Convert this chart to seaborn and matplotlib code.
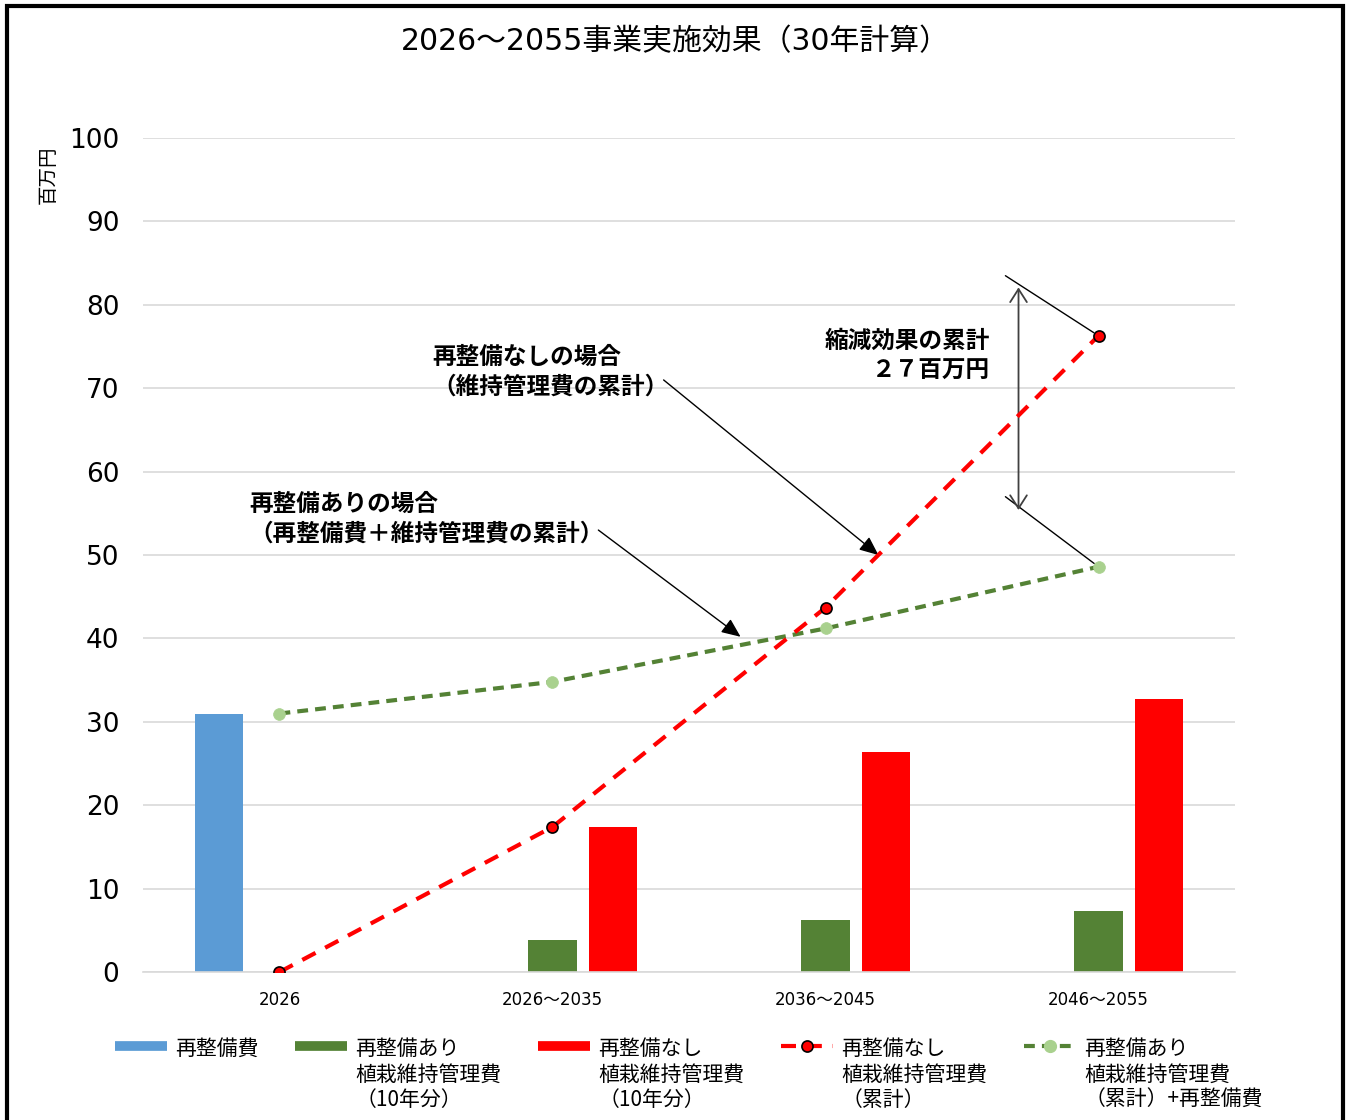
import numpy as np
import pandas as pd
import matplotlib
matplotlib.use('Agg')
import matplotlib.pyplot as plt
from matplotlib.lines import Line2D
import seaborn as sns

# data (百万円)
periods = ['2026', '2026〜2035', '2036〜2045', '2046〜2055']
renewal_cost = [31.0, np.nan, np.nan, np.nan]
with_renewal_10yr = [np.nan, 3.8, 6.3, 7.3]
without_renewal_10yr = [np.nan, 17.4, 26.4, 32.7]
without_renewal_cum = [0.0, 17.4, 43.7, 76.3]
with_renewal_cum = [31.0, 34.8, 41.2, 48.6]

bar_series = ['再整備費',
              '再整備あり\n植栽維持管理費\n（10年分）',
              '再整備なし\n植栽維持管理費\n（10年分）']
line_series = ['再整備なし\n植栽維持管理費\n（累計）',
               '再整備あり\n植栽維持管理費\n（累計）+再整備費']
yticks = list(range(0, 101, 10))

BLUE = '#5B9BD5'
GREEN = '#548235'
RED = '#FF0000'
LIGHT_GREEN = '#A9D18E'
NUM_FONT = ['DejaVu Sans', 'Noto Sans CJK JP']

sns.set_theme(style='white')
plt.rcParams['font.family'] = ['Noto Sans CJK JP', 'DejaVu Sans']
plt.rcParams['text.color'] = 'black'
plt.rcParams['xtick.color'] = 'black'
plt.rcParams['ytick.color'] = 'black'

df = pd.DataFrame({
    'period': periods * 3,
    'series': np.repeat(bar_series, len(periods)),
    'value': renewal_cost + with_renewal_10yr + without_renewal_10yr,
})

fig = plt.figure(figsize=(13.49, 11.2), dpi=100)
ax = fig.add_axes([0.1060, 0.1321, 0.8095, 0.7446])

sns.barplot(data=df, x='period', y='value', hue='series', order=periods,
            hue_order=bar_series, palette=[BLUE, GREEN, RED], saturation=1,
            width=0.66, gap=0.2, errorbar=None, legend=False, linewidth=0,
            ax=ax, zorder=2)

# cumulative lines
sns.pointplot(x=periods, y=with_renewal_cum, color=GREEN, markers='o',
              linestyles='--', errorbar=None, linewidth=3, markersize=8.5,
              markerfacecolor=LIGHT_GREEN, markeredgecolor=LIGHT_GREEN,
              markeredgewidth=0.5, ax=ax, zorder=3)
ln_green = ax.lines[-1]
ln_green.set_dashes((2.6, 1.7))
ln_green.set_markerfacecolor(LIGHT_GREEN)
ln_green.set_markeredgecolor(LIGHT_GREEN)

sns.pointplot(x=periods, y=without_renewal_cum, color=RED, markers='o',
              linestyles='--', errorbar=None, linewidth=3, markersize=8,
              markerfacecolor=RED, markeredgecolor='black',
              markeredgewidth=1.2, ax=ax, zorder=4)
ln_red = ax.lines[-1]
ln_red.set_dashes((3.6, 2.6))
ln_red.set_markerfacecolor(RED)
ln_red.set_markeredgecolor('black')

ax.set_xlim(-0.5, len(periods) - 0.5)
ax.set_ylim(0, 100)
ax.set_yticks(yticks)
ax.set_xlabel('')
ax.set_ylabel('')
ax.yaxis.grid(True, color='#D9D9D9', lw=1.2)
ax.set_axisbelow(True)
for s in ['top', 'right', 'left']:
    ax.spines[s].set_visible(False)
ax.spines['bottom'].set_color('#D9D9D9')
ax.spines['bottom'].set_linewidth(1.2)
ax.tick_params(axis='y', labelsize=19, length=0, pad=17, labelcolor='black')
ax.tick_params(axis='x', labelsize=12, length=0, pad=14, labelcolor='black')
for lbl in ax.get_yticklabels() + ax.get_xticklabels():
    lbl.set_family(NUM_FONT)

ax.text(-0.087, 0.956, '百万円', transform=ax.transAxes, rotation=90,
        fontsize=14, ha='center', va='center')

fig.text(0.5003, 0.9625, '2026〜2055事業実施効果（30年計算）', fontsize=21.5,
         ha='center', va='center', family=NUM_FONT)

# annotations
arrow_kw = dict(arrowstyle='-|>,head_length=0.58,head_width=0.25',
                color='black', lw=1, mutation_scale=20, shrinkA=0, shrinkB=0)
ax.annotate('', xy=(2.194, 50.0), xytext=(1.407, 71.0), arrowprops=arrow_kw)
ax.annotate('', xy=(1.689, 40.2), xytext=(1.168, 53.0), arrowprops=arrow_kw)
ax.text(0.560, 72.0, '再整備なしの場合\n（維持管理費の累計）', fontsize=17,
        fontweight='bold', ha='left', va='center', linespacing=1.3)
ax.text(-0.110, 54.4, '再整備ありの場合\n（再整備費＋維持管理費の累計）',
        fontsize=17, fontweight='bold', ha='left', va='center',
        linespacing=1.3)
ax.text(2.604, 73.9, '縮減効果の累計\n２７百万円', fontsize=17,
        fontweight='bold', ha='right', va='center', linespacing=1.3)

line_kw = dict(arrowstyle='-', color='black', lw=1, shrinkA=0, shrinkB=4)
ax.annotate('', xy=(3, without_renewal_cum[3]), xytext=(2.659, 83.5),
            arrowprops=line_kw)
ax.annotate('', xy=(3, with_renewal_cum[3]), xytext=(2.659, 57.0),
            arrowprops=line_kw)
ax.annotate('', xy=(2.707, 55.4), xytext=(2.707, 82.1),
            arrowprops=dict(arrowstyle='<->,head_length=0.47,head_width=0.3',
                            color='#404040', lw=1.3, mutation_scale=20,
                            shrinkA=0, shrinkB=0))

# legend
handles = [
    Line2D([], [], color=BLUE, lw=7, solid_capstyle='butt'),
    Line2D([], [], color=GREEN, lw=7, solid_capstyle='butt'),
    Line2D([], [], color=RED, lw=7, solid_capstyle='butt'),
    Line2D([], [], color=RED, lw=3, marker='o', markersize=8,
           markerfacecolor=RED, markeredgecolor='black', markeredgewidth=1.2,
           dashes=(3.6, 2.6)),
    Line2D([], [], color=GREEN, lw=3, marker='o', markersize=8.5,
           markerfacecolor=LIGHT_GREEN, markeredgecolor=LIGHT_GREEN,
           dashes=(2.6, 1.7)),
]
leg = fig.legend(handles, bar_series + line_series, loc='upper left',
                 bbox_to_anchor=(0.085, 0.073), ncol=5, frameon=False,
                 fontsize=15, handlelength=2.5, handletextpad=0.4,
                 columnspacing=1.75, borderpad=0, borderaxespad=0,
                 labelcolor='black')
leg._legend_handle_box.align = 'top'
for col in leg._legend_handle_box.get_children():
    for row in col.get_children():
        row.align = 'top'

# outer frame
fig.add_artist(Line2D([0.0052, 0.0052, 0.9955, 0.9955],
                      [0.0, 0.9946, 0.9946, 0.0],
                      transform=fig.transFigure, color='black', lw=3,
                      solid_joinstyle='miter'))

fig.savefig('out.png', dpi=100)
